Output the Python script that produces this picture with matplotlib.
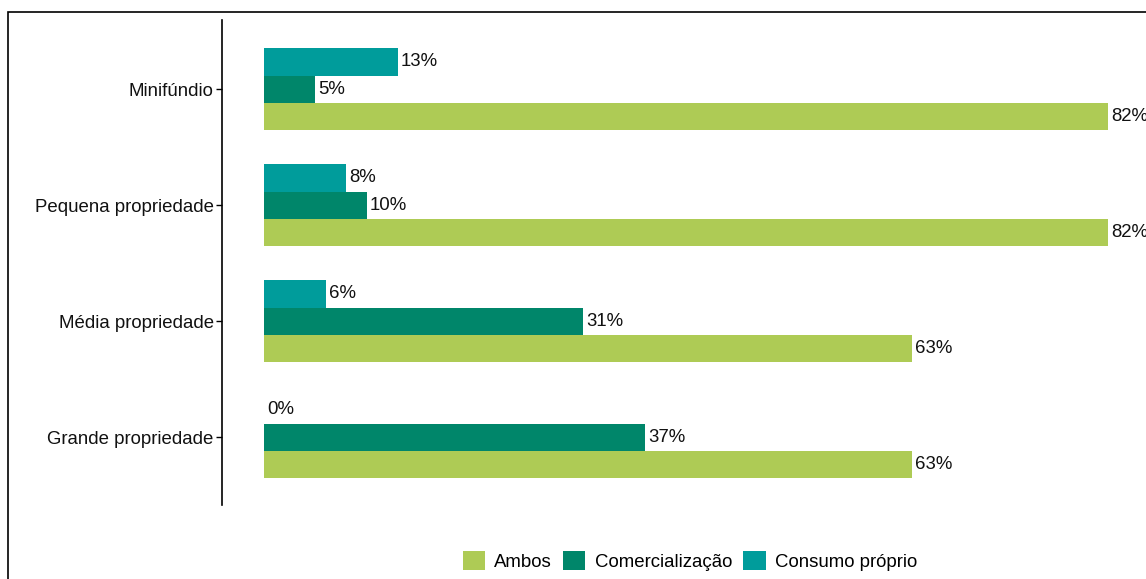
import matplotlib.pyplot as plt
import numpy as np
from matplotlib.patches import Rectangle, Patch

plt.rcParams['font.family'] = ['Liberation Sans', 'DejaVu Sans']

categorias = ['Grande propriedade', 'Média propriedade', 'Pequena propriedade', 'Minifúndio']
ambos = [63, 63, 82, 82]
comercializacao = [37, 31, 10, 5]
consumo = [0, 6, 8, 13]

series = ['Ambos', 'Comercialização', 'Consumo próprio']
cores = ['#AECB55', '#00866A', '#009C9B']

fs = 13.4

fig = plt.figure(figsize=(11.46, 5.79), dpi=100)
ax = fig.add_axes([222 / 1146, 74 / 579, 1 - 222 / 1146, 485 / 579])

y = np.arange(len(categorias))
h = 0.233
valores = [ambos, comercializacao, consumo]
deslocamento = [-h, 0, h]

for vals, cor, d in zip(valores, cores, deslocamento):
    bars = ax.barh(y + d, vals, height=h, color=cor)
    for b, v in zip(bars, vals):
        ax.text(b.get_width() + 0.3, b.get_y() + b.get_height() / 2, f'{v}%',
                va='center', ha='left', fontsize=fs, color='#111111')

ax.set_xlim(-4.08, 85.7)
ax.set_ylim(-0.586, 3.595)
ax.set_yticks(y)
ax.set_yticklabels(categorias, fontsize=fs, color='#111111')
ax.set_xticks([])
for s in ['top', 'right', 'bottom']:
    ax.spines[s].set_visible(False)
ax.spines['left'].set_linewidth(1.2)
ax.tick_params(axis='y', length=4, width=1, pad=2)

handles = [Patch(facecolor=c, edgecolor='none') for c in cores]
fig.legend(handles, series, loc='center', bbox_to_anchor=(0.602, 0.031), ncol=3,
           frameon=False, fontsize=fs, handlelength=1.2, handleheight=1.2,
           handletextpad=0.5, columnspacing=0.6)

# moldura
fig.patches.append(Rectangle((8 / 1146, -0.1), 1.2, 1 - 12 / 579 + 0.1,
                             transform=fig.transFigure, fill=False,
                             edgecolor='black', linewidth=1.2))

fig.savefig('out.png', dpi=100)
